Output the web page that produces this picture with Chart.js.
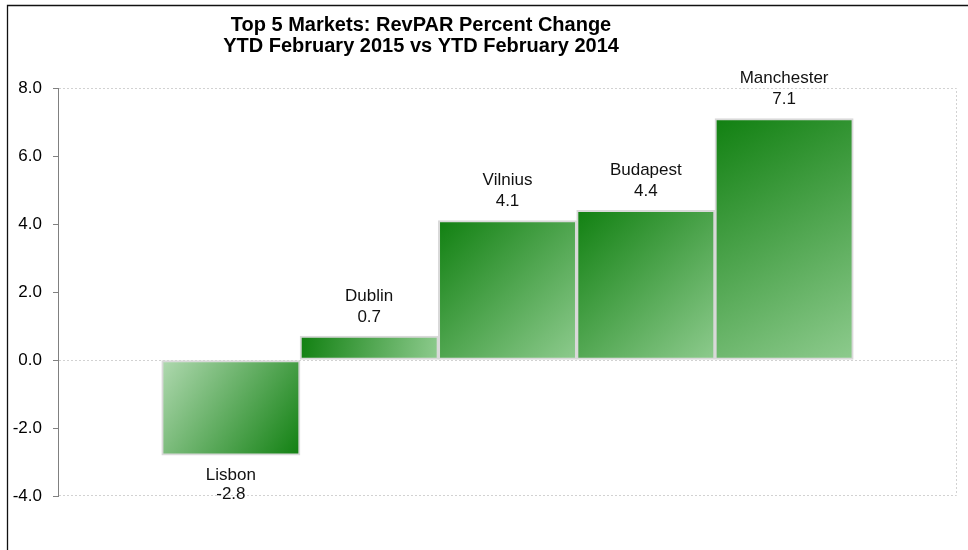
<!DOCTYPE html>
<html>
<head>
<meta charset="utf-8">
<script src="https://cdn.jsdelivr.net/npm/chart.js@4/dist/chart.umd.min.js"></script>
<style>
html,body{margin:0;padding:0;background:#fff;}
#wrap{width:968px;height:550px;position:relative;}
</style>
</head>
<body>
<div id="wrap"><canvas id="c" width="968" height="550"></canvas></div>
<script>
// ---- data ----
const categories = ['Lisbon', 'Dublin', 'Vilnius', 'Budapest', 'Manchester'];
const values = [-2.8, 0.7, 4.1, 4.4, 7.1];
const yTicks = [-4, -2, 0, 2, 4, 6, 8];
const titleLines = ['Top 5 Markets: RevPAR Percent Change', 'YTD February 2015 vs YTD February 2014'];
const positions = categories.map((c, i) => i + 1);

const FONT = '"Liberation Sans", Arial, sans-serif';

function barFill(sc) {
  const chart = sc.chart;
  const xs = chart.scales.x, ys = chart.scales.y;
  if (!chart.chartArea || sc.type !== 'data' || !xs || !ys) return '#3a9a3a';
  const i = sc.dataIndex;
  const v = values[i];
  const cx = xs.getPixelForValue(positions[i]);
  const half = (xs.getPixelForValue(1) - xs.getPixelForValue(0)) / 2;
  const top = ys.getPixelForValue(Math.max(v, 0));
  const bot = ys.getPixelForValue(Math.min(v, 0));
  const g = chart.ctx.createLinearGradient(cx - half, top, cx + half, bot);
  if (v >= 0) {
    g.addColorStop(0, '#118011');
    g.addColorStop(1, '#8ecb8e');
  } else {
    g.addColorStop(0, '#b0d9b0');
    g.addColorStop(1, '#118011');
  }
  return g;
}

const framePlugin = {
  id: 'frame',
  beforeDraw(chart) {
    const ctx = chart.ctx;
    ctx.save();
    ctx.fillStyle = '#fff';
    ctx.fillRect(0, 0, chart.width, chart.height);
    // outer border (left & top)
    ctx.strokeStyle = '#111';
    ctx.lineWidth = 1.3;
    ctx.beginPath();
    ctx.moveTo(7.5, chart.height);
    ctx.lineTo(7.5, 5.5);
    ctx.lineTo(chart.width, 5.5);
    ctx.stroke();
    // title
    ctx.fillStyle = '#000';
    ctx.font = 'bold 20px ' + FONT;
    ctx.textAlign = 'center';
    ctx.textBaseline = 'alphabetic';
    ctx.fillText(titleLines[0], 421, 31);
    ctx.fillText(titleLines[1], 421, 52);
    ctx.restore();
  },
  beforeDatasetsDraw(chart) {
    const ctx = chart.ctx;
    const a = chart.chartArea;
    const y0 = Math.round(chart.scales.y.getPixelForValue(0)) + 0.5;
    ctx.save();
    ctx.strokeStyle = '#d2d2d2';
    ctx.lineWidth = 1;
    ctx.setLineDash([2, 2]);
    ctx.beginPath();
    ctx.moveTo(a.left + 1, a.top + 0.5); ctx.lineTo(a.right - 0.5, a.top + 0.5);
    ctx.lineTo(a.right - 0.5, a.bottom - 0.5);
    ctx.lineTo(a.left + 1, a.bottom - 0.5);
    ctx.moveTo(a.left + 1, y0); ctx.lineTo(a.right - 0.5, y0);
    ctx.stroke();
    ctx.restore();
  },
  afterDatasetsDraw(chart) {
    const meta = chart.getDatasetMeta(0);
    const ctx = chart.ctx;
    ctx.save();
    ctx.font = '17px ' + FONT;
    ctx.fillStyle = '#111';
    ctx.textAlign = 'center';
    ctx.textBaseline = 'middle';
    meta.data.forEach((el, i) => {
      const v = values[i];
      const top = Math.min(el.y, el.base), bot = Math.max(el.y, el.base);
      if (v >= 0) {
        ctx.fillText(categories[i], el.x, top - 40);
        ctx.fillText(v.toFixed(1), el.x, top - 19);
      } else {
        ctx.fillText(categories[i], el.x, bot + 20);
        ctx.fillText(v.toFixed(1), el.x, bot + 39);
      }
    });
    ctx.restore();
  }
};

new Chart(document.getElementById('c'), {
  type: 'bar',
  data: {
    datasets: [{
      data: positions.map((p, i) => ({ x: p, y: values[i] })),
      backgroundColor: barFill,
      borderColor: '#d9d9d9',
      borderWidth: 2,
      borderSkipped: false,
      barPercentage: 1,
      categoryPercentage: 1
    }]
  },
  options: {
    responsive: false,
    animation: false,
    devicePixelRatio: 1,
    layout: { padding: { top: 88, right: 11, bottom: 54, left: 0 } },
    plugins: { legend: { display: false }, tooltip: { enabled: false }, title: { display: false } },
    scales: {
      x: {
        type: 'linear',
        min: -0.25,
        max: 6.25,
        offset: false,
        display: false,
        afterBuildTicks: s => { s.ticks = positions.map(v => ({ value: v })); }
      },
      y: {
        min: -4,
        max: 8,
        afterBuildTicks: s => { s.ticks = yTicks.map(v => ({ value: v })); },
        afterFit: s => { s.width = 58; },
        ticks: {
          callback: v => Number(v).toFixed(1),
          font: { family: FONT, size: 17 },
          color: '#000',
          padding: 11
        },
        grid: { drawOnChartArea: false, drawTicks: true, tickLength: 5, tickColor: '#808080', tickWidth: 1 },
        border: { display: true, color: '#808080', width: 1 }
      }
    }
  },
  plugins: [framePlugin]
});
</script>
</body>
</html>
